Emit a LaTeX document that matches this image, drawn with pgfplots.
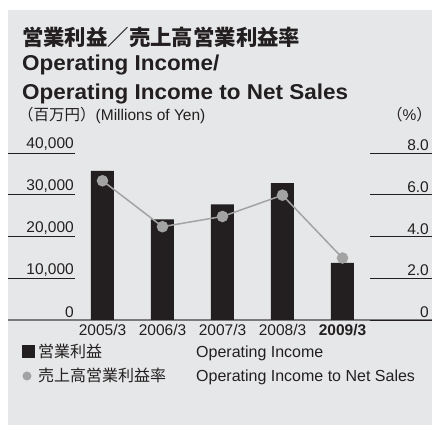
\documentclass[border=0pt]{standalone}
\usepackage{pgfplots}
\pgfplotsset{compat=1.18}
\usepackage{fontspec}
\setmainfont{Liberation Sans}
\newfontfamily\cjk{Noto Sans CJK JP}
\newfontfamily\titlefont[FakeStretch=1.045]{Liberation Sans Bold}
\definecolor{bgc}{HTML}{E6E7E8}
\definecolor{barc}{HTML}{231F20}
\definecolor{txt}{HTML}{231F20}
\definecolor{linec}{HTML}{A3A3A3}
\definecolor{basec}{HTML}{7A7A7A}
\begin{document}
\begin{tikzpicture}
\useasboundingbox (0,0) rectangle (432pt,-425pt);
\fill[white] (0,0) rectangle (432pt,-425pt);
\fill[bgc] (8pt,-10pt) rectangle (432pt,-425pt);
% titles
\node[anchor=base west, inner sep=0, text=txt] at (22pt,-45.5pt) {\cjk\bfseries\fontsize{21.4}{24}\selectfont 営業利益／売上高営業利益率};
\node[anchor=base west, inner sep=0, text=txt] at (22pt,-71pt) {\titlefont\fontsize{21.5}{24}\selectfont Operating Income/};
\node[anchor=base west, inner sep=0, text=txt] at (22pt,-99.5pt) {\titlefont\fontsize{21.5}{24}\selectfont Operating Income to Net Sales};
\node[anchor=base west, inner sep=0, text=txt] at (18pt,-121pt) {\fontsize{15.5}{18}\selectfont {\cjk （百万円）}(Millions of Yen)};
\node[anchor=base east, inner sep=0, text=txt] at (432pt,-121pt) {\fontsize{15.5}{18}\selectfont {\cjk （}\%{\cjk ）}};
% bars axis
\begin{axis}[
  at={(8pt,-320pt)}, anchor=south west,
  scale only axis, width=424pt, height=167pt,
  xmin=-1.575, xmax=5.492, ymin=0, ymax=40000,
  scaled y ticks=false,
  axis x line*=bottom, axis y line*=left,
  y axis line style={draw=none},
  x axis line style={draw=basec, line width=1.2pt, -},
  xtick={0,1,2,3,4},
  xticklabels={2005/3,2006/3,2007/3,2008/3,\textbf{2009/3}},
  xtick style={draw=none},
  xticklabel style={font=\fontsize{15.5}{18}\selectfont, text=txt, yshift=-1pt},
  ytick={0,10000,20000,30000,40000},
  yticklabels={0,{10,000},{20,000},{30,000},{40,000}},
  tick align=inside,
  ytick style={draw=barc, line width=0.9pt},
  major tick length=67pt,
  yticklabel style={font=\fontsize{15.5}{18}\selectfont, text=txt, anchor=south east, xshift=67pt, yshift=1pt, inner sep=1pt},
  clip=false,
]
\addplot[ybar, bar width=23pt, fill=barc, draw=none] coordinates {(0,35700) (1,24100) (2,27700) (3,32800) (4,13700)};
\end{axis}
% line axis
\begin{axis}[
  at={(8pt,-320pt)}, anchor=south west,
  scale only axis, width=424pt, height=167pt,
  xmin=-1.575, xmax=5.492, ymin=0, ymax=8,
  axis x line=none, axis y line*=right,
  y axis line style={draw=none},
  ytick={0,2,4,6,8},
  yticklabels={0,2.0,4.0,6.0,8.0},
  tick align=inside,
  ytick style={draw=barc, line width=0.9pt},
  major tick length=62pt,
  yticklabel style={font=\fontsize{15.5}{18}\selectfont, text=txt, anchor=south east, xshift=-2pt, yshift=1pt, inner sep=1pt},
  clip=false,
]
\addplot[color=linec, line width=1.5pt, mark=*, mark size=5pt, mark options={fill=linec, draw=none}] coordinates {(0,6.67) (1,4.47) (2,4.96) (3,5.98) (4,2.97)};
\end{axis}
% legend
\fill[barc] (22pt,-358pt) rectangle (35pt,-345pt);
\fill[linec] (27pt,-376pt) circle (4.5pt);
\node[anchor=base west, inner sep=0, text=txt] at (38pt,-357.5pt) {\fontsize{16}{18}\selectfont {\cjk 営業利益}};
\node[anchor=base west, inner sep=0, text=txt] at (196pt,-357.5pt) {\fontsize{16}{18}\selectfont Operating Income};
\node[anchor=base west, inner sep=0, text=txt] at (38pt,-381.5pt) {\fontsize{16}{18}\selectfont {\cjk 売上高営業利益率}};
\node[anchor=base west, inner sep=0, text=txt] at (196pt,-381.5pt) {\fontsize{16}{18}\selectfont Operating Income to Net Sales};
\end{tikzpicture}
\end{document}
